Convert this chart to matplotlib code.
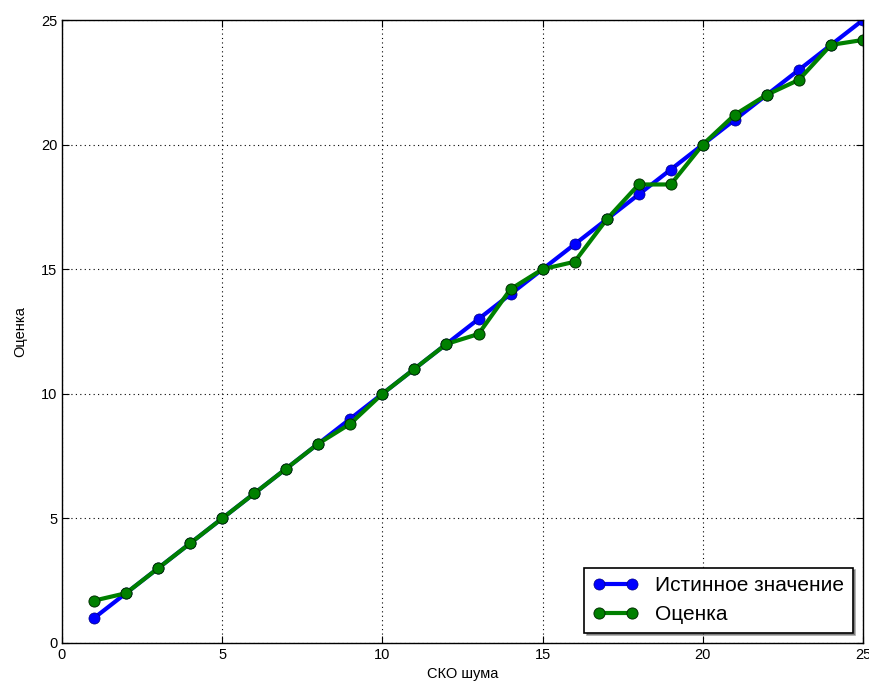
import matplotlib
matplotlib.use("Agg")
import matplotlib.pyplot as plt

plt.rcParams['font.family'] = ['Liberation Sans', 'DejaVu Sans']

x = list(range(1, 26))
true_vals = list(range(1, 26))
est_vals = [1.7, 2.0, 3.0, 4.0, 5.0, 6.0, 7.0, 8.0, 8.8, 10.0,
            11.0, 12.0, 12.4, 14.2, 15.0, 15.3, 17.0, 18.4, 18.4, 20.0,
            21.2, 22.0, 22.6, 24.0, 24.2]
xticks = [0, 5, 10, 15, 20, 25]
yticks = [0, 5, 10, 15, 20, 25]

fig = plt.figure(figsize=(8.69, 6.84), dpi=100)
ax = fig.add_axes([62/869, 1-643/684, (863-62)/869, (643-20)/684])
ax.plot(x, true_vals, color='#0000ff', lw=3, marker='o', ms=8,
        markeredgecolor='#000080', markeredgewidth=0.5, label='Истинное значение')
ax.plot(x, est_vals, color='#008000', lw=3, marker='o', ms=8,
        markeredgecolor='#003000', markeredgewidth=0.7, label='Оценка')
ax.set_xlim(0, 25)
ax.set_ylim(0, 25)
ax.set_xticks(xticks)
ax.set_yticks(yticks)
ax.grid(True, color='black', linestyle=(0, (1, 3)), linewidth=0.8)
ax.tick_params(direction='in', top=True, right=True, labelsize=10.5, length=5)
for s in ax.spines.values():
    s.set_linewidth(1.0)
ax.set_xlabel('СКО шума', fontsize=10.5, labelpad=4)
ax.set_ylabel('Оценка', fontsize=10.5, labelpad=10)
leg = ax.legend(loc='lower right', numpoints=2, fontsize=15, shadow=True,
                fancybox=False, framealpha=1, edgecolor='black',
                handlelength=2.2, borderaxespad=0.5)
leg.get_frame().set_linewidth(1.2)
fig.savefig('out.png', dpi=100)
